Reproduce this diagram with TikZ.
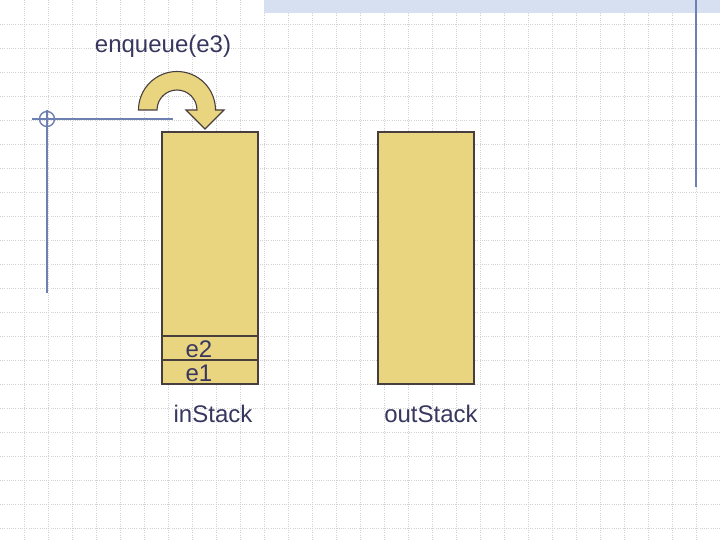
\documentclass[tikz,border=0pt]{standalone}
\usepackage{fontspec}
\setmainfont{Liberation Sans}
\usetikzlibrary{positioning}

\definecolor{stackfill}{RGB}{233,213,128}
\definecolor{stackline}{RGB}{72,62,62}
\definecolor{labeltext}{RGB}{55,55,95}
\definecolor{guideblue}{RGB}{110,128,178}
\definecolor{bandblue}{RGB}{214,224,240}

\tikzset{
    stackbox/.style={draw=stackline, fill=stackfill, line width=1.1pt, inner sep=0pt},
    cell/.style={stackbox, minimum width=96pt, minimum height=24pt},
    caption/.style={text=labeltext, font=\fontsize{24}{28}\selectfont, inner sep=0pt, anchor=base},
    guide/.style={guideblue, line width=1.4pt}
}

\begin{document}
\begin{tikzpicture}[x=1pt, y=-1pt] % one unit = one pixel of the slide
    \useasboundingbox (0,0) rectangle (720,540);
    \fill[white] (0,0) rectangle (720,540);
    % Dotted background grid
    \foreach \gx in {24,48,...,696} {
        \draw[gray!35, line width=0.7pt, dash pattern=on 1pt off 1.2pt] (\gx,0) -- (\gx,540);
    }
    \foreach \gy in {24,48,...,528} {
        \draw[gray!35, line width=0.7pt, dash pattern=on 1pt off 1.2pt] (0,\gy) -- (720,\gy);
    }
    % Band at the top right
    \fill[bandblue] (264,0) rectangle (720,13);
    % Guide lines
    \draw[guide] (32,119) -- (173,119);
    \draw[guide] (47,110) -- (47,293);
    \draw[guide] (47,119) circle (7.5);
    \draw[guide] (696,0) -- (696,187);

    \node[caption] (op) at (163,53) {enqueue(e3)};

    % Curved arrow into the stack
    \draw[stackbox] (138.5,110) arc[start angle=180, end angle=360, radius=38.5]
        -- (224,110) -- (205,129) -- (186,110) -- (197,110)
        arc[start angle=360, end angle=180, radius=20] -- cycle;

    % The two stacks
    \node[stackbox, minimum width=96pt, minimum height=252pt] (in) at (210,258) {};
    \node[stackbox, minimum width=96pt, minimum height=252pt] (out) at (426,258) {};
    \node[cell] (c1) at (210,372) {};
    \node[cell] (c2) at (210,348) {};
    \node[caption] (e1) at (199,381) {e1};
    \node[caption] (e2) at (199,357) {e2};

    \node[caption] (inl) at (213,422) {inStack};
    \node[caption] (outl) at (431,422) {outStack};
\end{tikzpicture}
\end{document}
